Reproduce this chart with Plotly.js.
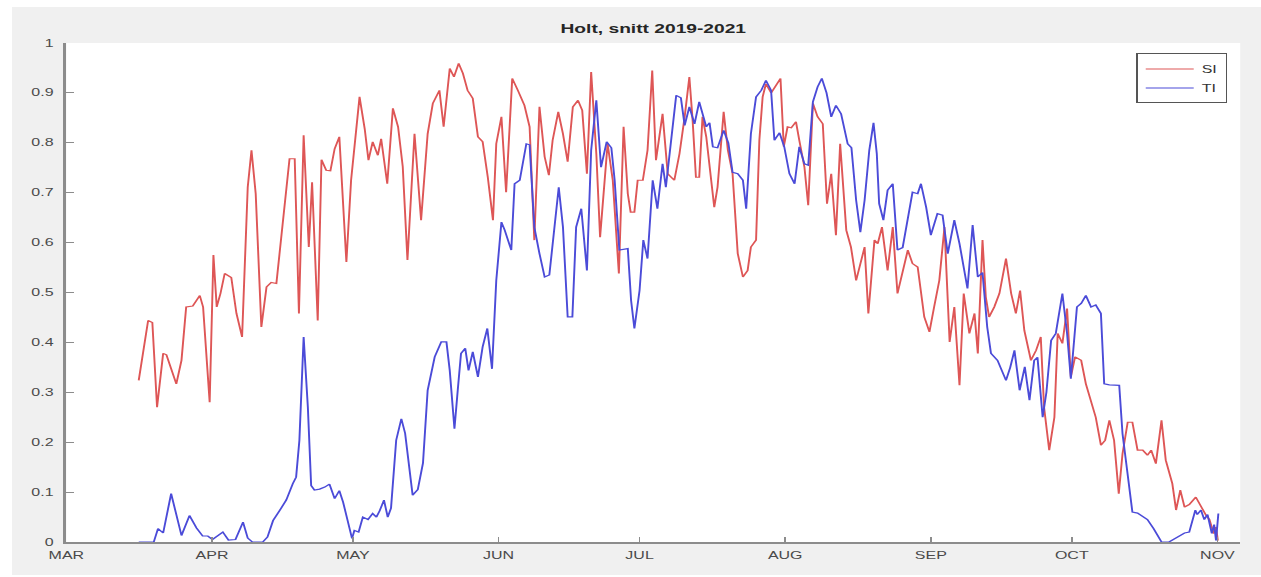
<!DOCTYPE html>
<html><head><meta charset="utf-8">
<script src="https://cdn.plot.ly/plotly-3.0.1.min.js"></script>
<style>
html,body{margin:0;padding:0;background:#ffffff;width:1261px;height:577px;overflow:hidden;}
#wrap{position:absolute;left:12px;top:7px;width:781px;height:568px;transform:scaleX(1.59923);transform-origin:0 0;}
#chart{width:781px;height:568px;}
</style></head><body>
<div id="wrap"><div id="chart"></div></div>
<script>
// Days counted from 1 March
const monthStart = [0,31,61,92,122,153,184,214,245];
const monthLabels = ['MAR','APR','MAY','JUN','JUL','AUG','SEP','OCT','NOV'];
const seriesNames = ['SI','TI'];

const siDay = [15.4,17.4,18.3,19.3,20.6,21.3,23.4,24.5,25.5,26.9,
28.4,29.1,30.5,31.3,32.0,32.8,33.7,35.1,36.2,37.4,
38.6,39.4,40.3,41.5,42.6,43.6,44.7,46.8,47.5,48.6,
49.5,50.5,51.6,52.3,53.5,54.3,55.3,56.2,57.1,58.1,
59.6,60.6,62.4,63.5,64.3,65.2,66.3,67.0,68.3,69.5,
70.6,71.6,72.6,74.1,75.5,76.9,78.0,79.4,80.3,81.6,
82.5,83.5,84.4,85.4,86.5,87.6,88.6,89.7,90.8,91.5,
92.6,93.6,94.9,96.1,97.5,98.6,99.6,100.7,101.8,102.7,
103.5,104.7,105.7,106.7,107.8,108.9,109.8,110.8,111.7,112.8,
113.6,115.2,116.3,117.6,118.6,119.5,120.1,120.9,121.6,122.7,
123.7,124.7,125.5,126.9,128.0,129.4,130.5,131.6,132.6,133.3,
134.0,134.7,135.4,136.2,137.2,137.9,138.6,139.9,140.8,141.8,
142.9,144.0,145.0,145.7,146.8,147.5,148.2,148.9,150.0,151.1,
152.0,152.7,153.5,154.3,155.3,156.0,157.1,157.9,158.9,159.9,
161.0,161.9,162.8,163.8,164.7,166.0,167.0,168.1,169.1,169.9,
170.7,172.0,172.7,173.6,174.8,175.9,176.9,178.0,179.1,180.1,
181.2,182.6,183.7,184.7,185.8,186.9,188.0,189.0,190.1,191.0,
192.2,193.3,194.0,195.0,195.7,196.4,197.5,198.6,200.0,201.1,
202.1,203.0,203.9,205.3,206.4,207.4,208.1,209.2,210.3,211.0,
212.0,213.0,213.8,214.7,216.0,217.0,218.1,219.1,220.2,221.1,
222.0,223.0,224.0,224.8,225.9,226.9,228.0,229.1,230.1,230.9,
231.9,233.1,234.0,235.4,236.2,237.1,238.0,239.0,240.4,241.5,
242.6,243.3,244.2,244.7,245.1];
const siVal = [0.324,0.444,0.440,0.270,0.378,0.375,0.317,0.364,0.471,0.473,
0.494,0.471,0.280,0.575,0.471,0.498,0.538,0.530,0.458,0.411,
0.711,0.785,0.698,0.431,0.511,0.520,0.518,0.705,0.768,0.768,
0.458,0.815,0.591,0.721,0.444,0.766,0.745,0.744,0.788,0.812,
0.561,0.725,0.892,0.828,0.765,0.802,0.775,0.808,0.718,0.869,
0.832,0.752,0.565,0.818,0.645,0.818,0.879,0.905,0.832,0.949,
0.932,0.959,0.939,0.905,0.889,0.812,0.802,0.731,0.645,0.798,
0.852,0.701,0.929,0.905,0.875,0.832,0.605,0.872,0.772,0.735,
0.805,0.862,0.818,0.762,0.872,0.885,0.865,0.738,0.942,0.778,
0.611,0.798,0.725,0.538,0.832,0.698,0.661,0.661,0.725,0.725,
0.785,0.945,0.765,0.858,0.738,0.725,0.778,0.852,0.932,0.845,
0.731,0.731,0.852,0.812,0.730,0.671,0.711,0.862,0.785,0.738,
0.578,0.531,0.544,0.591,0.605,0.805,0.892,0.918,0.900,0.918,
0.929,0.792,0.832,0.830,0.842,0.805,0.751,0.675,0.879,0.852,
0.838,0.678,0.738,0.615,0.798,0.625,0.591,0.524,0.558,0.591,
0.458,0.605,0.598,0.631,0.544,0.631,0.498,0.538,0.585,0.558,
0.551,0.451,0.421,0.471,0.524,0.631,0.401,0.471,0.314,0.498,
0.418,0.458,0.378,0.605,0.491,0.451,0.471,0.498,0.568,0.498,
0.458,0.504,0.424,0.364,0.384,0.411,0.270,0.184,0.250,0.418,
0.398,0.468,0.331,0.371,0.364,0.317,0.277,0.250,0.194,0.204,
0.244,0.204,0.097,0.177,0.240,0.240,0.184,0.184,0.174,0.184,
0.157,0.244,0.164,0.117,0.064,0.104,0.070,0.075,0.090,0.070,
0.053,0.045,0.017,0.030,0.003];

const tiDay = [15.4,18.6,19.5,20.6,22.3,23.4,24.5,26.2,27.7,29.0,
30.1,31.1,32.2,33.3,34.5,36.0,37.6,38.6,39.6,41.8,
42.8,44.0,45.4,46.8,48.2,48.9,49.6,50.5,51.4,52.1,
52.8,53.9,55.0,56.0,57.1,58.1,58.9,59.9,60.8,61.3,
62.2,63.1,64.2,65.2,66.0,66.7,67.6,68.4,69.1,70.2,
71.3,72.1,73.0,73.7,74.8,75.9,76.9,78.4,79.8,80.9,
81.6,82.6,83.3,84.0,84.9,85.6,86.5,87.6,88.6,89.6,
90.6,91.5,92.6,93.3,94.7,95.4,96.5,97.9,98.6,99.6,
100.7,101.8,102.8,103.9,104.8,105.7,106.7,107.7,108.5,109.6,
110.8,111.7,112.8,113.8,115.0,116.0,116.7,117.7,119.5,120.2,
120.9,122.0,122.8,123.7,124.8,125.8,126.9,127.6,128.7,129.8,
130.8,131.6,132.6,133.7,134.7,135.4,136.2,136.9,137.6,138.6,
139.9,140.9,141.8,142.9,144.0,144.7,145.7,146.8,147.9,148.9,
150.0,150.7,151.8,152.8,153.9,155.0,156.0,157.1,157.9,158.9,
159.9,160.8,161.8,162.8,163.8,164.9,166.3,167.1,168.1,169.0,
169.9,170.9,171.8,172.5,173.0,173.9,174.8,175.9,176.9,178.0,
179.1,180.1,181.2,181.9,183.0,184.0,185.4,186.5,187.6,189.0,
190.1,191.8,192.9,194.0,195.0,196.0,196.8,198.2,200.0,200.9,
201.8,202.9,204.0,205.0,206.0,206.7,207.8,208.6,209.6,210.6,
212.0,213.0,213.8,214.5,215.1,216.0,217.0,218.1,219.1,220.2,
220.9,222.0,224.1,224.8,225.9,226.9,228.0,229.1,230.1,231.4,
232.4,233.1,234.7,236.9,238.0,239.0,240.3,240.7,241.5,242.2,
242.9,243.8,244.3,244.7,245.2];
const tiVal = [0,0,0.027,0.018,0.097,0.055,0.013,0.053,0.028,0.012,
0.012,0.005,0.012,0.020,0.004,0.005,0.040,0.008,0,0,
0.010,0.043,0.063,0.084,0.117,0.130,0.204,0.411,0.270,0.113,
0.104,0.106,0.110,0.116,0.087,0.103,0.080,0.040,0.007,0.023,
0.020,0.050,0.045,0.057,0.050,0.063,0.084,0.050,0.068,0.204,
0.247,0.218,0.140,0.094,0.105,0.158,0.304,0.371,0.401,0.401,
0.344,0.227,0.304,0.378,0.388,0.344,0.381,0.331,0.391,0.428,
0.347,0.524,0.641,0.625,0.585,0.718,0.725,0.798,0.796,0.631,
0.578,0.531,0.535,0.631,0.711,0.631,0.451,0.451,0.631,0.668,
0.544,0.785,0.885,0.751,0.802,0.790,0.725,0.585,0.588,0.484,
0.428,0.504,0.605,0.568,0.725,0.668,0.758,0.711,0.805,0.895,
0.890,0.835,0.872,0.838,0.882,0.862,0.832,0.840,0.792,0.790,
0.825,0.800,0.741,0.738,0.725,0.668,0.818,0.892,0.905,0.925,
0.905,0.805,0.820,0.792,0.738,0.718,0.792,0.758,0.755,0.882,
0.912,0.929,0.900,0.852,0.875,0.858,0.798,0.790,0.685,0.621,
0.685,0.785,0.840,0.778,0.678,0.645,0.705,0.718,0.585,0.590,
0.645,0.701,0.698,0.718,0.671,0.615,0.658,0.655,0.578,0.645,
0.598,0.508,0.635,0.531,0.540,0.431,0.378,0.364,0.324,0.350,
0.384,0.304,0.351,0.284,0.364,0.370,0.250,0.300,0.404,0.418,
0.498,0.418,0.327,0.404,0.471,0.478,0.494,0.471,0.475,0.458,
0.317,0.315,0.314,0.217,0.137,0.060,0.058,0.050,0.045,0.027,
0.013,0,0,0.013,0.018,0.020,0.064,0.055,0.064,0.045,
0.055,0.017,0.035,0.003,0.057];

const FONT = 'Liberation Sans, Arial, Helvetica, sans-serif';
const AXC = '#8c8c8c';

const traces = [
  {x: siDay, y: siVal, name: seriesNames[0], type: 'scatter', mode: 'lines',
   line: {color: '#de5656', width: 1.2}},
  {x: tiDay, y: tiVal, name: seriesNames[1], type: 'scatter', mode: 'lines',
   line: {color: '#4b4bd8', width: 1.2}}
];

const layout = {
  width: 781, height: 568,
  paper_bgcolor: '#f0f0f0', plot_bgcolor: '#ffffff',
  margin: {l: 34.2, r: 12.5, t: 35.7, b: 33.3, pad: 0, autoexpand: false},
  showlegend: true,
  title: {text: 'Holt, snitt 2019-2021', x: 0.5, xref: 'paper', xanchor: 'center',
          y: 0.961, yref: 'container', yanchor: 'middle',
          font: {family: FONT, size: 12, weight: 'bold', color: '#262626'}},
  xaxis: {range: [0, 249.85], tickmode: 'array', tickvals: monthStart, ticktext: monthLabels,
          ticks: 'inside', ticklen: 5, tickwidth: 1, tickcolor: AXC,
          showline: true, linecolor: AXC, linewidth: 2, showgrid: false, zeroline: false,
          tickfont: {family: FONT, size: 10, color: '#4a4a4a'}, ticklabelstandoff: 3, fixedrange: true},
  yaxis: {range: [0, 1], tickmode: 'linear', tick0: 0, dtick: 0.1,
          ticks: 'inside', ticklen: 5, tickwidth: 1, tickcolor: AXC,
          showline: true, linecolor: AXC, linewidth: 2, showgrid: false, zeroline: false,
          tickfont: {family: FONT, size: 10, color: '#4a4a4a'}, ticklabelstandoff: 4, fixedrange: true},
  legend: {x: 0.989, xanchor: 'right', y: 0.979, yanchor: 'top',
           bgcolor: '#ffffff', bordercolor: '#555555', borderwidth: 1,
           font: {family: FONT, size: 10, color: '#333333'}, tracegroupgap: 0, itemwidth: 30}
};

Plotly.newPlot('chart', traces, layout, {staticPlot: true, displayModeBar: false});
</script>
</body></html>
